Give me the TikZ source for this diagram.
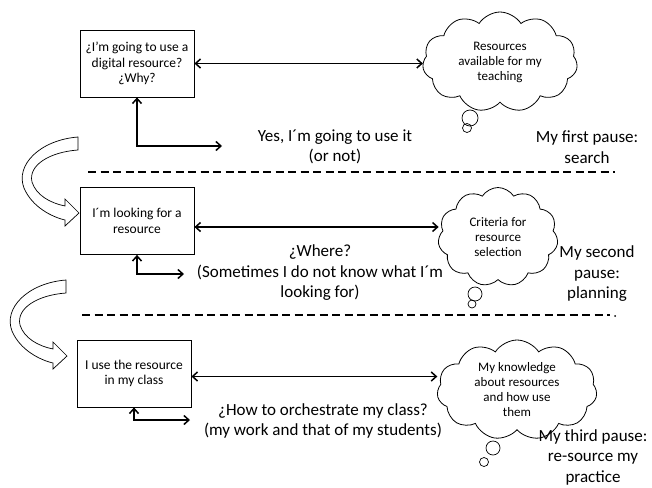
\documentclass[tikz,border=0pt]{standalone}
\usepackage{fontspec}
\setmainfont{Carlito}
\usetikzlibrary{shapes.symbols,arrows.meta}

\tikzset{
  stepbox/.style={draw, line width=0.8pt, minimum width=114pt, minimum height=67pt,
    align=center, font=\fontsize{13.5}{15.5}\selectfont},
  thought/.style={cloud, draw, line width=0.8pt, cloud puffs=11, cloud puff arc=115,
    cloud ignores aspect, align=center, inner sep=0pt, font=\fontsize{13}{15}\selectfont},
  remark/.style={align=center, font=\fontsize{17}{20.5}\selectfont},
  link/.style={{Straight Barb[length=5pt,width=9pt]}-{Straight Barb[length=5pt,width=9pt]},
    line width=1.5pt},
  pauseline/.style={line width=1.8pt, dash pattern=on 8pt off 4.5pt},
  bendarrow/.style={draw, fill=white, line width=0.7pt}
}

\begin{document}
\begin{tikzpicture}[x=1pt,y=-1pt]
\useasboundingbox (0,0) rectangle (652,487);

% ----------------------------------------------------------
% Step boxes
% ----------------------------------------------------------
\node[stepbox] (q1) at (137,63.5) {¿I’m going to use a\\digital resource?\\¿Why?};
\node[stepbox] (q2) at (137,221) {I´m looking for a\\resource};
\node[stepbox] (q3) at (134,373.5) {I use the resource\\in my class};

% ----------------------------------------------------------
% Clouds and their bubbles
% ----------------------------------------------------------
\node[thought, minimum width=155pt, minimum height=100pt] (c1) at (500,62)
  {Resources\\available for my\\teaching};
\node[thought, minimum width=120pt, minimum height=99pt] (c2) at (498,237)
  {Criteria for\\resource\\selection};
\node[thought, minimum width=160pt, minimum height=100pt] (c3) at (517,390)
  {My knowledge\\about resources\\and how use\\them};

\foreach \x/\y/\r in {470/118/8, 467/128/4.5, 475/294/7, 472/304/4, 493/448/7, 484/462/4.5} {
    \draw[line width=0.7pt] (\x,\y) circle[radius=\r];
}

% ----------------------------------------------------------
% Links between boxes and clouds
% ----------------------------------------------------------
\coordinate (q2r) at ([yshift=-6pt]q2.east);
\coordinate (q3r) at ([yshift=-3pt]q3.east);
\draw[link] (q1.east) -- (q1.east -| c1.west);
\draw[link] (q2r) -- (q2r -| c2.west);
\draw[link] (q3r) -- (q3r -| c3.west);

% elbow links to the questions
\coordinate (yes) at (222,146);
\coordinate (where) at (184,274);
\coordinate (how) at (190,420);
\draw[link] (q1.south) |- (yes);
\draw[link] (q2.south) |- (where);
\draw[link] (q3.south) |- (how);

% ----------------------------------------------------------
% Texts
% ----------------------------------------------------------
\node[remark] (yesnote) at (335,147) {Yes, I´m going to use it\\(or not)};
\node[remark] (wherenote) at (320,273) {¿Where?\\(Sometimes I do not know what I´m\\looking for)};
\node[remark] (hownote) at (323,421) {¿How to orchestrate my class?\\(my work and that of my students)};

\node[remark] (pause1) at (587,147) {My first pause:\\search};
\node[remark] (pause2) at (597,274) {My second\\pause:\\planning};
\node[remark] (pause3) at (593,457) {My third pause:\\re-source my\\practice};

% ----------------------------------------------------------
% Dashed separators
% ----------------------------------------------------------
\draw[pauseline] (88,172) -- (615,172);
\draw[pauseline] (82,315) -- (610,315);
\fill (615,316) circle[radius=1];

% ----------------------------------------------------------
% Curved block arrows between steps
% ----------------------------------------------------------
\foreach \dx/\dy in {0/0, -12/143} {
  \begin{scope}[shift={(\dx,\dy)}]
    \draw[bendarrow] (78,137) .. controls (40,140) and (15,165) .. (24,188)
      .. controls (32,207) and (52,217) .. (65,220) -- (65,226) -- (79,213)
      -- (65,199) -- (65,206) .. controls (50,203) and (36,195) .. (32,182)
      .. controls (28,165) and (50,152) .. (78,150) -- cycle;
  \end{scope}
}

\end{tikzpicture}
\end{document}
